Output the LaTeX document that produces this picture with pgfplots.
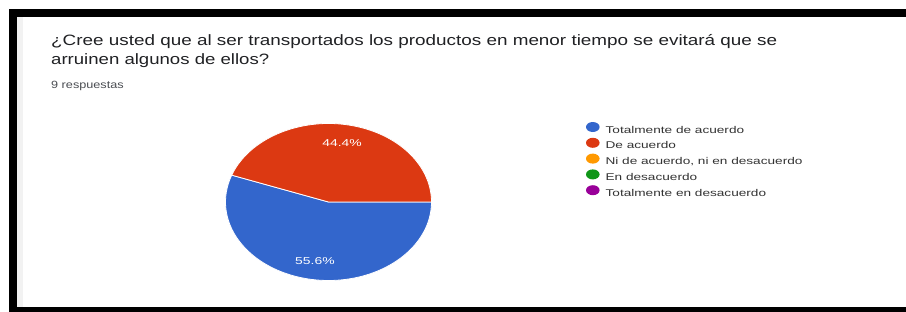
\documentclass[border=0pt]{standalone}
\usepackage{pgfplots}
\pgfplotsset{compat=1.18}
\usepackage{pgfplotstable}
\usepackage{graphicx}
\usepackage{fontspec}
\setmainfont{Liberation Sans}
\definecolor{gblue}{HTML}{3366CC}
\definecolor{gred}{HTML}{DC3912}
\definecolor{gorange}{HTML}{FF9900}
\definecolor{ggreen}{HTML}{109618}
\definecolor{gpurple}{HTML}{990099}
\definecolor{titlecol}{HTML}{202124}
\definecolor{subcol}{HTML}{4A4D52}
\definecolor{legcol}{HTML}{333333}
\pgfplotstableread{
slice count
1 5
2 4
3 0
4 0
5 0
}\piedata
\begin{document}
\begin{tikzpicture}
\pgfplotstablegetelem{0}{count}\of\piedata \edef\nA{\pgfplotsretval}
\pgfplotstablegetelem{1}{count}\of\piedata \edef\nB{\pgfplotsretval}
\pgfmathsetmacro\tot{\nA+\nB}
\pgfmathsetmacro\eA{-360*\nA/\tot}
\pgfmathsetmacro\eB{\eA-360*\nB/\tot}
\pgfmathsetmacro\mA{\eA/2}
\pgfmathsetmacro\mB{(\eA+\eB)/2}
\pgfmathsetmacro\pA{100*\nA/\tot}
\pgfmathsetmacro\pB{100*\nB/\tot}
\pgfmathsetmacro\xA{0.76*cos(\mA)}
\pgfmathsetmacro\yA{0.76*sin(\mA)}
\pgfmathsetmacro\xB{0.76*cos(\mB)}
\pgfmathsetmacro\yB{0.76*sin(\mB)}
\fill[white] (0pt,0pt) rectangle (906pt,-312pt);
\fill[gray!10] (17pt,-17pt) rectangle (23pt,-307pt);
\fill[black] (9pt,-9pt) rectangle (906pt,-17pt);
\fill[black] (9pt,-9pt) rectangle (17pt,-312pt);
\fill[black] (9pt,-307pt) rectangle (906pt,-312pt);
\node[anchor=base west, inner sep=0pt, text=titlecol] at (51pt,-45.7pt) {\resizebox{726pt}{\height}{\fontsize{15}{18}\selectfont ¿Cree usted que al ser transportados los productos en menor tiempo se evitará que se}};
\node[anchor=base west, inner sep=0pt, text=titlecol] at (51pt,-64.8pt) {\resizebox{218pt}{\height}{\fontsize{15}{18}\selectfont arruinen algunos de ellos?}};
\node[anchor=base west, inner sep=0pt, text=subcol] at (51pt,-88.3pt) {\resizebox{72.5pt}{\height}{\fontsize{10.5}{12}\selectfont 9 respuestas}};
\begin{axis}[
  at={(225.5pt,-280.5pt)}, anchor=south west,
  scale only axis, width=206pt, height=157pt,
  xmin=-1, xmax=1, ymin=-1, ymax=1,
  hide axis, clip=false,
  legend cell align=left,
  legend image code/.code={\fill[draw=none] (6.8pt,3.4pt) ellipse [x radius=6.8pt, y radius=5pt];},
  legend style={at={(1.75,1.0095)}, anchor=north west, draw=none, fill=none,
    inner sep=0pt, outer sep=0pt, font=\fontsize{9.8}{11}\selectfont, text=legcol,
    row sep=2.15pt, nodes={inner sep=0pt, text height=8pt, text depth=2.5pt},
    /tikz/every odd column/.append style={column sep=6pt}},
]
\fill[gblue, draw=white, line width=0.8pt] (axis cs:0,0) -- (axis cs:1,0) arc[start angle=0, end angle=\eA, x radius=103pt, y radius=78.5pt] -- cycle;
\fill[gred, draw=white, line width=0.8pt] (axis cs:0,0) -- (axis cs:{cos(\eA)},{sin(\eA)}) arc[start angle=\eA, end angle=\eB, x radius=103pt, y radius=78.5pt] -- cycle;
\node[text=white, font=\fontsize{10}{12}\selectfont, inner sep=0pt] at (axis cs:\xA,\yA) {\scalebox{1.39}[1]{\pgfmathprintnumber[fixed,precision=1,assume math mode=true]{\pA}\%}};
\node[text=white, font=\fontsize{10}{12}\selectfont, inner sep=0pt] at (axis cs:\xB,\yB) {\scalebox{1.39}[1]{\pgfmathprintnumber[fixed,precision=1,assume math mode=true]{\pB}\%}};
\addlegendimage{color=gblue, fill=gblue, draw=none}
\addlegendentry{\scalebox{1.39}[1]{Totalmente de acuerdo}}
\addlegendimage{color=gred, fill=gred, draw=none}
\addlegendentry{\scalebox{1.39}[1]{De acuerdo}}
\addlegendimage{color=gorange, fill=gorange, draw=none}
\addlegendentry{\scalebox{1.39}[1]{Ni de acuerdo, ni en desacuerdo}}
\addlegendimage{color=ggreen, fill=ggreen, draw=none}
\addlegendentry{\scalebox{1.39}[1]{En desacuerdo}}
\addlegendimage{color=gpurple, fill=gpurple, draw=none}
\addlegendentry{\scalebox{1.39}[1]{Totalmente en desacuerdo}}
\end{axis}
\pgfresetboundingbox
\useasboundingbox (0pt,0pt) rectangle (906pt,-312pt);
\end{tikzpicture}
\end{document}
